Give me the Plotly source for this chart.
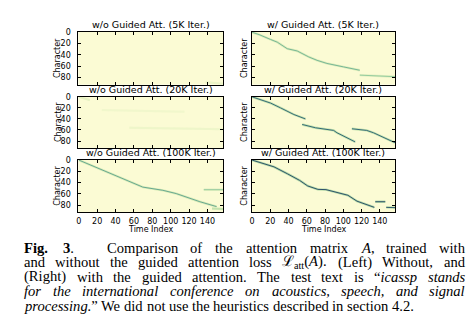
import plotly.graph_objects as go
from plotly.colors import sample_colorscale

# ---------------- data ----------------
TITLES = ["w/o Guided Att. (5K Iter.)", "w/ Guided Att. (5K Iter.)",
          "w/o Guided Att. (20K Iter.)", "w/ Guided Att. (20K Iter.)",
          "w/o Guided Att. (100K Iter.)", "w/ Guided Att. (100K Iter.)"]
X_TICKS = [0, 20, 40, 60, 80, 100, 120, 140]
Y_TICKS = [0, 20, 40, 60, 80]
N_TIME = 157
N_CHAR = 93

# attention paths: (time index, character index) for each visible stroke
WO5K_S1_T = [138, 157]
WO5K_S1_C = [88, 91]

W5K_S1_T = [0, 7.6, 20.3, 27.6, 38.5, 49.4, 62.2, 71.2, 82, 89.4, 100, 118]
W5K_S1_C = [0, 4.1, 12.8, 17.5, 29, 33, 43.6, 49.5, 55, 58, 61, 67]
W5K_S2_T = [118, 157]
W5K_S2_C = [75.6, 78.4]

WO20K_S1_T = [0, 12]
WO20K_S1_C = [0, 6]
WO20K_S2_T = [25, 115]
WO20K_S2_C = [24, 27]
WO20K_S3_T = [55, 157]
WO20K_S3_C = [56, 58.5]

W20K_S1_T = [0, 20.3, 31.2, 45.8, 58.5]
W20K_S1_C = [0, 11.3, 20, 32, 40]
W20K_S2_T = [54.9, 69.4, 89.4, 93, 113]
W20K_S2_C = [50, 56, 60.8, 65, 81.6]
W20K_S3_T = [109.4, 125.7, 133, 156.6]
W20K_S3_C = [57.8, 60.8, 65, 83]

WO100K_S1_T = [0, 22, 40, 69.6, 91.5, 106, 131.8, 150]
WO100K_S1_C = [0, 14.8, 27.6, 48, 53.7, 59.5, 74, 82.7]
WO100K_S2_T = [136, 157]
WO100K_S2_C = [52.6, 52.6]
WO100K_S3_T = [145, 157]
WO100K_S3_C = [86, 87]

W100K_S1_T = [0, 12, 24, 39, 52, 61, 72, 81, 90, 99, 105, 115, 126, 134]
W100K_S1_C = [0, 5.5, 12, 24.6, 36, 46, 52, 52.5, 56.7, 61, 62.5, 73, 80, 84]
W100K_S2_T = [135, 146]
W100K_S2_C = [74, 74]
W100K_S3_T = [147, 157]
W100K_S3_C = [84, 84.5]

# strokes per panel: (times, chars, attention strength 0..1)
PANEL_STROKES = [
    [(WO5K_S1_T, WO5K_S1_C, 0.10)],
    [(W5K_S1_T, W5K_S1_C, 0.55), (W5K_S2_T, W5K_S2_C, 0.45)],
    [(WO20K_S1_T, WO20K_S1_C, 0.14), (WO20K_S2_T, WO20K_S2_C, 0.06), (WO20K_S3_T, WO20K_S3_C, 0.08)],
    [(W20K_S1_T, W20K_S1_C, 0.85), (W20K_S2_T, W20K_S2_C, 0.85), (W20K_S3_T, W20K_S3_C, 0.85)],
    [(WO100K_S1_T, WO100K_S1_C, 0.6), (WO100K_S2_T, WO100K_S2_C, 0.45), (WO100K_S3_T, WO100K_S3_C, 0.3)],
    [(W100K_S1_T, W100K_S1_C, 0.97), (W100K_S2_T, W100K_S2_C, 0.97), (W100K_S3_T, W100K_S3_C, 0.92)],
]

# caption, word by word: each word = list of (text, style)
CAPTION_LINES = [
    [[("Fig.", "b")], [("3", "b"), (".", "r")]],
    [[("Comparison", "r")], [("of", "r")], [("the", "r")], [("attention", "r")], [("matrix", "r")],
     [("A", "i"), (",", "r")], [("trained", "r")], [("with", "r")]],
    [[("and", "r")], [("without", "r")], [("the", "r")], [("guided", "r")], [("attention", "r")],
     [("loss", "r")], [("\u2112", "L"), ("att", "sub"), ("(", "r"), ("A", "i"), (").", "r")],
     [("(Left)", "r")], [("Without,", "r")], [("and", "r")]],
    [[("(Right)", "r")], [("with", "r")], [("the", "r")], [("guided", "r")], [("attention.", "r")],
     [("The", "r")], [("test", "r")], [("text", "r")], [("is", "r")], [("\u201c", "r"), ("icassp", "i")],
     [("stands", "i")]],
    [[("for", "i")], [("the", "i")], [("international", "i")], [("conference", "i")], [("on", "i")],
     [("acoustics,", "i")], [("speech,", "i")], [("and", "i")], [("signal", "i")]],
    [[("processing.", "i"), ("\u201d", "r")], [("We", "r")], [("did", "r")], [("not", "r")], [("use", "r")],
     [("the", "r")], [("heuristics", "r")], [("described", "r")], [("in", "r")], [("section", "r")],
     [("4.2.", "r")]],
]

# ---------------- styling ----------------
W, H = 472, 331
CSCALE = [[0.0, "#fbfbd4"], [0.25, "#d3eab2"], [0.5, "#86c39a"], [0.75, "#3f7e84"], [1.0, "#2c4c66"]]
BG = "#fbfbd4"
SANS = "DejaVu Sans"
SERIF = "Liberation Serif, DejaVu Serif, serif"
CAP_SIZE = 14.6

COLS = [(76.7, 222.0), (250.7, 395.0)]
ROWS = [(28.3, 81.7), (93.7, 145.7), (157.7, 210.7)]

# Times-compatible advance widths (1/1000 em)
REG = dict(zip("abcdefghijklmnopqrstuvwxyz",
               [444, 500, 444, 500, 444, 333, 500, 500, 278, 278, 500, 278, 778, 500, 500, 500, 500,
                333, 389, 278, 500, 500, 722, 500, 500, 444]))
REG.update({"A": 722, "C": 667, "L": 611, "R": 667, "T": 611, "W": 944, "(": 333, ")": 333,
            ",": 250, ".": 250, "\u201c": 444, "\u201d": 444, "4": 500, "2": 500, "3": 500})
ITA = dict(zip("abcdefghijklmnopqrstuvwxyz",
               [500, 500, 444, 500, 444, 278, 500, 500, 278, 278, 444, 278, 722, 500, 500, 500, 500,
                389, 389, 278, 500, 444, 667, 444, 444, 389]))
ITA.update({"A": 611, ",": 250, ".": 250})
BOLD = {"F": 611, "i": 278, "g": 500, ".": 250, "3": 500}


def seg_width(text, style):
    if style == "L":
        return 0.9 * len(text)
    if style == "sub":
        return 0.7 * sum(REG.get(ch, 500) for ch in text) / 1000
    table = {"r": REG, "i": ITA, "b": BOLD}[style]
    return sum(table.get(ch, 500) for ch in text) / 1000


def seg_html(text, style):
    if style == "i":
        return "<i>%s</i>" % text
    if style == "b":
        return "<b>%s</b>" % text
    if style == "sub":
        return "<sub>%s</sub>" % text
    return text


def px(x):
    return x / W


def py(y):
    return 1 - y / H


fig = go.Figure()
layout = dict(width=W, height=H, margin=dict(l=0, r=0, t=0, b=0),
              paper_bgcolor="white", plot_bgcolor=BG, showlegend=False)
annotations = []

for i in range(6):
    r, c = divmod(i, 2)
    k = "" if i == 0 else str(i + 1)
    x0, x1 = COLS[c]
    y0, y1 = ROWS[r]
    for (ts, cs, s) in PANEL_STROKES[i]:
        col = sample_colorscale(CSCALE, [s])[0]
        glow = sample_colorscale(CSCALE, [s * 0.35])[0]
        fig.add_trace(go.Scatter(x=ts, y=cs, mode="lines", xaxis="x" + k, yaxis="y" + k,
                                 line=dict(color=glow, width=2.4), hoverinfo="skip"))
        fig.add_trace(go.Scatter(x=ts, y=cs, mode="lines", xaxis="x" + k, yaxis="y" + k,
                                 line=dict(color=col, width=1.0 if s > 0.3 else 2.0), hoverinfo="skip"))
    common = dict(showgrid=False, zeroline=False, showline=True, linecolor="black", linewidth=1,
                  mirror="allticks", ticks="inside", ticklen=3, tickcolor="black", tickwidth=1,
                  tickfont=dict(family=SANS, size=8, color="black"))
    layout["xaxis" + k] = dict(common, domain=[px(x0), px(x1)], range=[-0.5, N_TIME],
                               tickvals=X_TICKS, showticklabels=(r == 2), anchor="y" + k,
                               ticklabelstandoff=1)
    layout["yaxis" + k] = dict(common, domain=[py(y1), py(y0)], range=[N_CHAR - 0.5, -0.5],
                               tickvals=Y_TICKS, showticklabels=(c == 0), anchor="x" + k,
                               ticklabelstandoff=5)
    annotations.append(dict(text=TITLES[i], x=px((x0 + x1) / 2), y=py(y0 - 0.5), xref="paper",
                            yref="paper", xanchor="center", yanchor="bottom", showarrow=False,
                            borderpad=0, font=dict(family=SANS, size=9.5, color="black")))
    annotations.append(dict(text="Character", x=px(56 if c == 0 else 243.7), y=py((y0 + y1) / 2),
                            xref="paper", yref="paper", xanchor="center", yanchor="middle",
                            textangle=-90, showarrow=False, borderpad=0,
                            font=dict(family=SANS, size=8, color="black")))
    if r == 2:
        annotations.append(dict(text="Time Index", x=px((x0 + x1) / 2), y=py(228.5), xref="paper",
                                yref="paper", xanchor="center", yanchor="middle", showarrow=False,
                                borderpad=0, font=dict(family=SANS, size=8, color="black")))

# caption layout: justified lines (first two entries share the first baseline)
LINE_Y = [246.7, 246.7, 261.3, 276.0, 290.7, 305.3]
LINE_SPAN = [(22, 72), (105, 465), (22, 465), (22, 465), (22, 465), (22, None)]
for words, ly, (xs, xe) in zip(CAPTION_LINES, LINE_Y, LINE_SPAN):
    widths = [sum(seg_width(t, s) for t, s in wd) * CAP_SIZE for wd in words]
    if xe is None:
        gap = 0.25 * CAP_SIZE
    else:
        gap = (xe - xs - sum(widths)) / (len(words) - 1)
    x = xs
    for wd, wdt in zip(words, widths):
        html = "".join(seg_html(t, s) for t, s in wd)
        annotations.append(dict(text=html, x=px(x), y=py(ly), xref="paper", yref="paper",
                                xanchor="left", yanchor="middle", showarrow=False,
                                borderpad=0, borderwidth=0,
                                font=dict(family=SERIF, size=CAP_SIZE, color="black")))
        x += wdt + gap

layout["annotations"] = annotations
fig.update_layout(**layout)
fig.write_html("out.html")
